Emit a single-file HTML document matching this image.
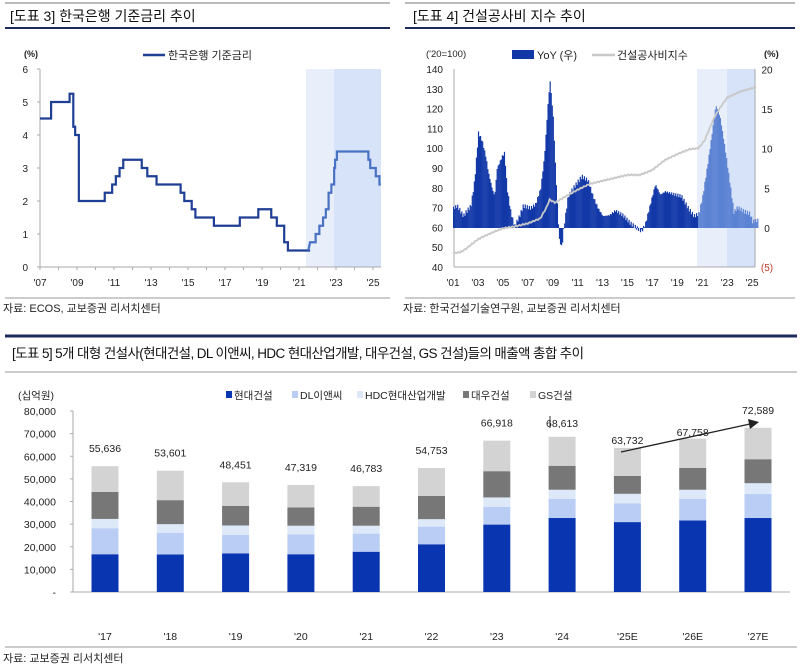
<!DOCTYPE html>
<html><head><meta charset="utf-8"><style>
body{margin:0;background:#fff;}
svg{display:block;font-family:"Liberation Sans","Noto Sans CJK KR",sans-serif;}
</style></head><body>
<svg id="s" width="800" height="669" viewBox="0 0 800 669" xmlns="http://www.w3.org/2000/svg">
<!-- Chart 3 header -->
<line x1="5" y1="3" x2="390" y2="3" stroke="#777" stroke-width="1"/>
<text x="10" y="21" font-size="14" fill="#111">[도표 3] 한국은행 기준금리 추이</text>
<line x1="5" y1="28" x2="390" y2="28" stroke="#1d2a5c" stroke-width="2"/>
<!-- Chart 4 header -->
<line x1="405" y1="3" x2="795" y2="3" stroke="#777" stroke-width="1"/>
<text x="413" y="21" font-size="14" fill="#111">[도표 4] 건설공사비 지수 추이</text>
<line x1="405" y1="28" x2="795" y2="28" stroke="#1d2a5c" stroke-width="2"/>

<g id="c3"></g>
<g id="c4"></g>
<g id="c5"></g>

<line x1="5" y1="298" x2="390" y2="298" stroke="#999"/>
<text x="3" y="312" font-size="11" fill="#222">자료: ECOS, 교보증권 리서치센터</text>
<line x1="405" y1="298" x2="795" y2="298" stroke="#999"/>
<text x="403" y="312" font-size="11" fill="#222">자료: 한국건설기술연구원, 교보증권 리서치센터</text>

<!-- Chart 5 header -->
<line x1="5" y1="336" x2="797" y2="336" stroke="#1d2a5c" stroke-width="3"/>
<text x="12" y="358" font-size="13.5" fill="#111" letter-spacing="-0.6">[도표 5] 5개 대형 건설사(현대건설, DL 이앤씨, HDC 현대산업개발, 대우건설, GS 건설)들의 매출액 총합 추이</text>
<line x1="5" y1="372" x2="797" y2="372" stroke="#999"/>
<line x1="5" y1="647" x2="797" y2="647" stroke="#999"/>
<text x="3" y="662" font-size="11" fill="#222">자료: 교보증권 리서치센터</text>
</svg>
<script>
var NS="http://www.w3.org/2000/svg";
function el(p,t,a,txt){var e=document.createElementNS(NS,t);for(var k in a)e.setAttribute(k,a[k]);if(txt!==undefined)e.textContent=txt;p.appendChild(e);return e;}
function interp(pts,x){if(x<=pts[0][0])return pts[0][1];for(var i=1;i<pts.length;i++){if(x<=pts[i][0]){var a=pts[i-1],b=pts[i];return a[1]+(b[1]-a[1])*(x-a[0])/(b[0]-a[0]);}}return pts[pts.length-1][1];}

// ===== Chart 3 =====
(function(){
var g=document.getElementById('c3');
var X=function(y){return 40+(y-2007)*18.5;},Y=function(v){return 267-v*33;};
el(g,'rect',{x:306,y:69,width:28,height:198,fill:'#e8effb'});
el(g,'rect',{x:334,y:69,width:47,height:198,fill:'#d7e3f8'});
el(g,'line',{x1:40,y1:69,x2:40,y2:267,stroke:'#aaa'});
el(g,'line',{x1:40,y1:267,x2:381,y2:267,stroke:'#aaa'});
for(var v=0;v<=6;v++){el(g,'text',{x:28,y:Y(v)+4,'font-size':10,'text-anchor':'end',fill:'#222'},v);el(g,'line',{x1:37,y1:Y(v),x2:40,y2:Y(v),stroke:'#aaa'});}
for(var yr=2007;yr<=2025;yr+=2){el(g,'text',{x:X(yr),y:286,'font-size':10,'text-anchor':'middle',fill:'#222'},"'"+String(yr).slice(2));}
for(var yr=2007;yr<=2025;yr++)el(g,'line',{x1:X(yr),y1:267,x2:X(yr),y2:270,stroke:'#aaa'});
el(g,'text',{x:24,y:57,'font-size':9,fill:'#222','font-weight':'bold'},'(%)');
el(g,'line',{x1:143,y1:55,x2:165,y2:55,stroke:'#1f3f95','stroke-width':2.5});
el(g,'text',{x:168,y:59,'font-size':11,fill:'#222'},'한국은행 기준금리');
var st=[[2007.0,4.5],[2007.6,5],[2008.6,5.25],[2008.8,4.25],[2008.9,4],[2009.1,2],[2010.5,2.25],[2010.9,2.5],[2011.1,2.75],[2011.3,3],[2011.5,3.25],[2012.5,3],[2012.8,2.75],[2013.3,2.5],[2014.6,2.25],[2014.8,2],[2015.2,1.75],[2015.4,1.5],[2016.4,1.25],[2017.8,1.5],[2018.8,1.75],[2019.5,1.5],[2019.8,1.25],[2020.2,0.75],[2020.4,0.5],[2021.6,0.75],[2021.9,1],[2022.1,1.25],[2022.3,1.5],[2022.45,1.75],[2022.6,2.25],[2022.75,2.5],[2022.9,3.0],[2022.95,3.25],[2023.05,3.5],[2024.75,3.25],[2024.85,3],[2025.15,2.75],[2025.35,2.5]];
var d1='',d2='';
for(var i=0;i<st.length;i++){var x=X(st[i][0]),y=Y(st[i][1]);var nx=i+1<st.length?X(st[i+1][0]):X(2025.42);
 var seg=(i==0?'M':'L')+x+' '+y+' L'+nx+' '+y+' ';
 if(st[i][0]<2021.55)d1+=seg; else d2+=seg;}
el(g,'path',{d:d1+'L'+X(2021.6)+' '+Y(0.5),fill:'none',stroke:'#1f3f95','stroke-width':2.2});
el(g,'path',{d:'M'+X(2021.5)+' '+Y(0.5)+' '+d2.replace(/^M/,'L'),fill:'none',stroke:'#4a72c4','stroke-width':2.2});
})();

// ===== Chart 4 =====
(function(){
var g=document.getElementById('c4');
var X=function(y){return 453+(y-2001)*12.46;};
var YL=function(v){return 267-(v-40)*1.98;},YR=function(v){return 228-v*7.93;};
el(g,'rect',{x:697,y:69,width:30,height:198,fill:'#e8effb'});
el(g,'rect',{x:727,y:69,width:28,height:198,fill:'#d7e3f8'});
el(g,'line',{x1:454,y1:69,x2:454,y2:267,stroke:'#aaa'});
el(g,'line',{x1:755,y1:69,x2:755,y2:267,stroke:'#aaa'});
el(g,'line',{x1:454,y1:267,x2:755,y2:267,stroke:'#aaa'});
for(var v=40;v<=140;v+=10)el(g,'text',{x:443,y:YL(v)+4,'font-size':10,'text-anchor':'end',fill:'#222'},v);
[20,15,10,5,0].forEach(function(v){el(g,'text',{x:767,y:YR(v)+4,'font-size':10,'text-anchor':'middle',fill:'#222'},v);});
el(g,'text',{x:767,y:271,'font-size':10,'text-anchor':'middle',fill:'#c0392b'},'(5)');
for(var yr=2001;yr<=2025;yr+=2)el(g,'text',{x:X(yr),y:286,'font-size':10,'text-anchor':'middle',fill:'#222'},"'"+String(yr).slice(2));
el(g,'text',{x:426,y:57,'font-size':9.5,fill:'#222'},"('20=100)");
el(g,'text',{x:764,y:57,'font-size':9.5,fill:'#222','font-weight':'bold'},'(%)');
el(g,'rect',{x:512,y:50,width:22,height:9,fill:'#1238a8'});
el(g,'text',{x:537,y:59,'font-size':11,fill:'#222'},'YoY (우)');
el(g,'line',{x1:592,y1:55,x2:615,y2:55,stroke:'#c8c8c8','stroke-width':2.5});
el(g,'text',{x:617,y:59,'font-size':11,fill:'#222'},'건설공사비지수');
var yoy=[[2001,2.5],[2001.3,2.8],[2001.8,1.5],[2002.0,2.0],[2002.4,2.8],[2002.7,6],[2002.9,10],[2003.0,12],[2003.3,11],[2003.6,9],[2003.8,7],[2004.1,5],[2004.3,4],[2004.5,7.5],[2004.9,9],[2005.1,9.5],[2005.3,5],[2005.6,2],[2005.9,0.2],[2006.3,1.5],[2006.6,2.8],[2007.2,2.5],[2007.6,3],[2008.0,5],[2008.3,9],[2008.6,16],[2008.75,18.5],[2009.0,14],[2009.2,7],[2009.4,1],[2009.5,-1.5],[2009.7,-2.5],[2009.85,0],[2010.2,4],[2010.6,5],[2011.3,6.5],[2011.8,6],[2012.2,4],[2012.6,2.5],[2013.0,1.5],[2013.5,1.6],[2014.0,2.2],[2014.6,1.6],[2015.2,0.6],[2015.7,0],[2016.1,-0.4],[2016.4,0.5],[2016.8,3],[2017.2,5.5],[2017.6,4.2],[2018.0,4.6],[2018.6,4.3],[2019.3,4],[2019.8,2.6],[2020.3,1.5],[2020.7,1.8],[2021.0,4],[2021.4,8],[2021.8,12.5],[2022.05,15.5],[2022.4,14],[2022.8,10],[2023.2,5.5],[2023.5,2],[2023.8,2.6],[2024.3,2.1],[2024.8,1.8],[2025.0,0.8],[2025.4,1]];
for(var t=2001;t<2025.45;t+=1/12){var v=interp(yoy,t);v+=Math.sin(t*37)*0.25;var x=X(t),y0=YR(0),y1=YR(v);
 var col=t<2020.6?'#1238a8':'#5b82d3';
 el(g,'rect',{x:x,y:Math.min(y0,y1),width:1.2,height:Math.abs(y1-y0),fill:col});}
var idx=[[2001,47],[2001.6,47.5],[2002,49],[2003,54],[2004,57],[2005,59.5],[2006,60.5],[2007,62],[2008,64.5],[2008.5,70],[2008.75,74],[2009.2,72.5],[2010,75.5],[2011,79],[2012,82],[2013,83.5],[2014,85],[2015,86.5],[2016,86.5],[2017,89],[2018,94],[2019,97],[2020,99.5],[2020.7,100],[2021.2,104],[2021.6,110],[2022,116],[2022.5,121],[2023,125.5],[2024,128.5],[2025.4,131]];
var d='';for(var t=2001;t<=2025.4;t+=1/12){d+=(d?'L':'M')+X(t).toFixed(1)+' '+YL(interp(idx,t)+Math.sin(t*23)*0.3).toFixed(1)+' ';}
el(g,'path',{d:d,fill:'none',stroke:'#c8c8c8','stroke-width':1.8});
})();

// ===== Chart 5 =====
(function(){
var g=document.getElementById('c5');
var Y=function(v){return 592-v*2.2625;};
el(g,'line',{x1:73,y1:411,x2:73,y2:592,stroke:'#aaa'});
el(g,'line',{x1:73,y1:592,x2:790,y2:592,stroke:'#aaa'});
var labs=['-','10,000','20,000','30,000','40,000','50,000','60,000','70,000','80,000'];
for(var i=0;i<=8;i++){el(g,'text',{x:56,y:Y(i*10)+4,'font-size':10.5,'text-anchor':'end',fill:'#222'},labs[i]);el(g,'line',{x1:70,y1:Y(i*10),x2:73,y2:Y(i*10),stroke:'#aaa'});}
el(g,'text',{x:18,y:399,'font-size':10.5,fill:'#222'},'(십억원)');
var leg=[['현대건설','#0a35b0',226],['DL이앤씨','#b9cdf5',292],['HDC현대산업개발','#dde8f8',357],['대우건설','#777',463],['GS건설','#d3d3d3',530]];
leg.forEach(function(l){el(g,'rect',{x:l[2],y:391,width:6,height:7,fill:l[1]});el(g,'text',{x:l[2]+8,y:399,'font-size':10.5,fill:'#222'},l[0]);});
var names=["'17","'18","'19","'20","'21","'22","'23","'24","'25E","'26E","'27E"];
var tot=['55,636','53,601','48,451','47,319','46,783','54,753','66,918','68,613','63,732','67,758','72,589'];
var data=[[16.7,28.2,32.3,44.2,55.6],[16.6,26.2,30.0,40.6,53.6],[17.1,25.3,29.4,38.1,48.5],[16.7,25.5,29.3,37.4,47.3],[17.8,25.8,29.3,37.7,46.8],[21.1,28.9,32.2,42.5,54.8],[29.8,37.6,41.8,53.4,66.9],[32.7,41.1,45.2,55.8,68.6],[30.9,39.2,43.4,51.3,63.7],[31.6,41.1,45.2,54.9,67.8],[32.7,43.3,48.1,58.7,72.6]];
var cols=['#0a35b0','#b9cdf5','#dde8f8','#777777','#d3d3d3'];
data.forEach(function(d,i){var cx=105+i*65.3,prev=0;
 for(var k=0;k<5;k++){el(g,'rect',{x:cx-13.5,y:Y(d[k]),width:27,height:Y(prev)-Y(d[k]),fill:cols[k]});prev=d[k];}
 var ly=(i==10)?414:(i==7?427:(i==9?436:Y(d[4])-14));
 if(i==8)ly=444;
 el(g,'text',{x:cx,y:ly,'font-size':10.5,'text-anchor':'middle',fill:'#222'},tot[i]);
 el(g,'text',{x:cx,y:640,'font-size':10.5,'text-anchor':'middle',fill:'#222'},names[i]);
});
el(g,'line',{x1:550,y1:416,x2:550,y2:428,stroke:'#333'});
el(g,'line',{x1:621,y1:452,x2:750,y2:424,stroke:'#222','stroke-width':1.3});
el(g,'path',{d:'M759 422 L748 419 L750 429 Z',fill:'#222'});
})();
</script>
</body></html>
